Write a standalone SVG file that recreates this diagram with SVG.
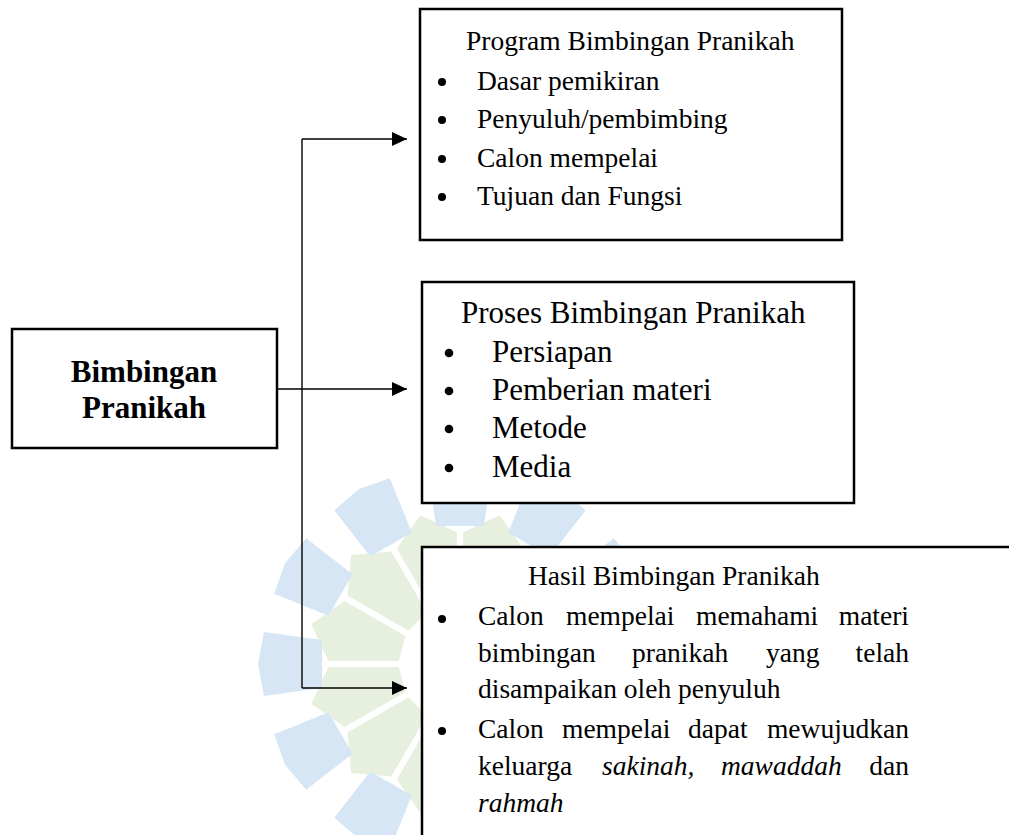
<svg xmlns="http://www.w3.org/2000/svg" xmlns:xlink="http://www.w3.org/1999/xlink" width="1009" height="835" viewBox="0 0 1009 835">
<style>
.box{fill:#ffffff;stroke:#000000;stroke-width:2.5}
.conn{fill:none;stroke:#000000;stroke-width:1.4}
.t{font-family:"Liberation Serif","Times New Roman",serif;font-size:27.5px;fill:#000000}
.t2{font-family:"Liberation Serif","Times New Roman",serif;font-size:31px;fill:#000000}
.tb{font-family:"Liberation Serif","Times New Roman",serif;font-size:31px;font-weight:bold;fill:#000000}
.i{font-style:italic}
.bul{fill:#000000}
.blue{fill:#d6e6f4}
.green{fill:#e7f0df}
</style>
<defs>
<marker id="arr" markerUnits="userSpaceOnUse" markerWidth="16" markerHeight="14" refX="15" refY="7" orient="auto">
<path d="M0,0 L15,7 L0,14 z" fill="#000000"/>
</marker>
<polygon id="bp" points="138,24 196,32 202,0 196,-32 138,-24"/>
<polygon id="gp" points="60,13 128,31 154,0 128,-31 60,-13"/>
</defs>
<rect width="1009" height="835" fill="#ffffff"/>
<g id="watermark">
<g class="green" transform="translate(460,664)">
<use xlink:href="#gp" transform="rotate(15)"/>
<use xlink:href="#gp" transform="rotate(45)"/>
<use xlink:href="#gp" transform="rotate(75)"/>
<use xlink:href="#gp" transform="rotate(105)"/>
<use xlink:href="#gp" transform="rotate(135)"/>
<use xlink:href="#gp" transform="rotate(165)"/>
<use xlink:href="#gp" transform="rotate(195)"/>
<use xlink:href="#gp" transform="rotate(225)"/>
<use xlink:href="#gp" transform="rotate(255)"/>
<use xlink:href="#gp" transform="rotate(285)"/>
<use xlink:href="#gp" transform="rotate(315)"/>
<use xlink:href="#gp" transform="rotate(345)"/>
</g>
<g class="blue" transform="translate(460,664)">
<use xlink:href="#bp" transform="rotate(0)"/>
<use xlink:href="#bp" transform="rotate(30)"/>
<use xlink:href="#bp" transform="rotate(60)"/>
<use xlink:href="#bp" transform="rotate(90)"/>
<use xlink:href="#bp" transform="rotate(120)"/>
<use xlink:href="#bp" transform="rotate(150)"/>
<use xlink:href="#bp" transform="rotate(180)"/>
<use xlink:href="#bp" transform="rotate(210)"/>
<use xlink:href="#bp" transform="rotate(240)"/>
<use xlink:href="#bp" transform="rotate(270)"/>
<use xlink:href="#bp" transform="rotate(300)"/>
<use xlink:href="#bp" transform="rotate(330)"/>
</g>
</g>
<g id="connectors">
<path class="conn" d="M302,139 V688"/>
<path class="conn" d="M302,139 H407" marker-end="url(#arr)"/>
<path class="conn" d="M277,389 H407" marker-end="url(#arr)"/>
<path class="conn" d="M302,688 H407" marker-end="url(#arr)"/>
</g>
<g id="node-root">
<rect class="box" x="12" y="329" width="265" height="119"/>
<text class="tb" x="144" y="382" text-anchor="middle">Bimbingan</text>
<text class="tb" x="144" y="418" text-anchor="middle">Pranikah</text>
</g>
<g id="node-program">
<rect class="box" x="420" y="9" width="422" height="231"/>
<text class="t" x="466" y="50">Program Bimbingan Pranikah</text>
<circle class="bul" cx="442" cy="82" r="4"/>
<circle class="bul" cx="442" cy="120" r="4"/>
<circle class="bul" cx="442" cy="159" r="4"/>
<circle class="bul" cx="442" cy="197" r="4"/>
<text class="t" x="477" y="90">Dasar pemikiran</text>
<text class="t" x="477" y="128">Penyuluh/pembimbing</text>
<text class="t" x="477" y="167">Calon mempelai</text>
<text class="t" x="477" y="205">Tujuan dan Fungsi</text>
</g>
<g id="node-proses">
<rect class="box" x="422" y="282" width="432" height="221"/>
<text class="t2" x="461" y="323">Proses Bimbingan Pranikah</text>
<circle class="bul" cx="449" cy="353" r="4.3"/>
<circle class="bul" cx="449" cy="391" r="4.3"/>
<circle class="bul" cx="449" cy="429" r="4.3"/>
<circle class="bul" cx="449" cy="468" r="4.3"/>
<text class="t2" x="492" y="362">Persiapan</text>
<text class="t2" x="492" y="400">Pemberian materi</text>
<text class="t2" x="492" y="438">Metode</text>
<text class="t2" x="492" y="477">Media</text>
</g>
<g id="node-hasil">
<rect class="box" x="422" y="547" width="620" height="320"/>
<text class="t" x="528" y="585">Hasil Bimbingan Pranikah</text>
<circle class="bul" cx="442" cy="619" r="4"/>
<circle class="bul" cx="442" cy="731" r="4"/>
<text class="t" x="478" y="625">Calon</text>
<text class="t" x="566" y="625">mempelai</text>
<text class="t" x="696" y="625">memahami</text>
<text class="t" x="909" y="625" text-anchor="end">materi</text>
<text class="t" x="478" y="662">bimbingan</text>
<text class="t" x="632" y="662">pranikah</text>
<text class="t" x="766" y="662">yang</text>
<text class="t" x="909" y="662" text-anchor="end">telah</text>
<text class="t" x="478" y="698">disampaikan oleh penyuluh</text>
<text class="t" x="478" y="738">Calon</text>
<text class="t" x="562" y="738">mempelai</text>
<text class="t" x="688" y="738">dapat</text>
<text class="t" x="909" y="738" text-anchor="end">mewujudkan</text>
<text class="t" x="478" y="775">keluarga</text>
<text class="t i" x="602" y="775">sakinah,</text>
<text class="t i" x="721" y="775">mawaddah</text>
<text class="t" x="909" y="775" text-anchor="end">dan</text>
<text class="t i" x="478" y="812">rahmah</text>
</g>
</svg>
